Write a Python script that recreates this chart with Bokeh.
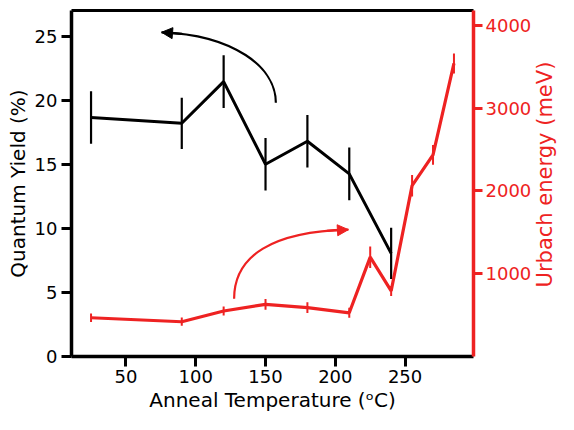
import numpy as np
from bokeh.plotting import figure
from bokeh.models import Range1d, LinearAxis, FixedTicker, Arrow, NormalHead, Label
from bokeh.embed import file_html
from bokeh.resources import INLINE

# ---- data ----
qy_temp = [25, 90, 120, 150, 180, 210, 240]
qy_val = [18.65, 18.2, 21.45, 15.0, 16.8, 14.25, 8.05]
qy_err = [2.05, 2.0, 2.05, 2.05, 2.05, 2.05, 2.0]

ue_temp = [25, 90, 120, 150, 180, 210, 225, 240, 255, 270, 285]
ue_val = [468, 420, 550, 630, 590, 528, 1200, 792, 2064, 2436, 3540]
ue_err = [50, 50, 55, 65, 65, 60, 130, 60, 130, 120, 120]

x_ticks = [50, 100, 150, 200, 250]
y_ticks = [0, 5, 10, 15, 20, 25]
y2_ticks = [1000, 2000, 3000, 4000]

# annotation arrows (cubic bezier: start, cp1, cp2, end) in data units
black_arrow = dict(x0=157.4, y0=19.8, cx0=157.4, cy0=22.6, cx1=126.8, cy1=25.1, x1=75.5, y1=25.3)
red_arrow = dict(x0=127.5, y0=4.5, cx0=127.5, cy0=7.9, cx1=155.3, cy1=9.75, x1=209.4, y1=9.9)

FONT = "DejaVu Sans"
RED = "#ee2222"

p = figure(width=558, height=414, min_border_left=71, min_border_right=84,
           min_border_top=10, min_border_bottom=58,
           x_range=Range1d(11, 299), y_range=Range1d(0, 27),
           output_backend="svg", toolbar_location=None)
p.extra_y_ranges = {"ue": Range1d(0, 4180)}
p.grid.visible = False
p.outline_line_color = None
p.background_fill_color = "white"
p.border_fill_color = "white"

def style(ax, color):
    ax.axis_line_color = color
    ax.axis_line_width = 3.5
    ax.major_tick_line_color = color
    ax.major_tick_line_width = 3
    ax.major_tick_out = 10
    ax.major_tick_in = 0
    ax.minor_tick_line_color = None
    ax.major_label_text_color = color
    ax.major_label_text_font = FONT
    ax.major_label_text_font_size = "18px"
    ax.major_label_standoff = 4
    ax.axis_label_text_color = color
    ax.axis_label_text_font = FONT
    ax.axis_label_text_font_style = "normal"
    ax.axis_label_text_font_size = "20px"
    ax.axis_label_standoff = 2

xa = p.xaxis[0]
style(xa, "black")
xa.ticker = FixedTicker(ticks=x_ticks)
xa.axis_label = "Anneal Temperature (\u1d52C)"
xa.major_label_standoff = 3

ya = p.yaxis[0]
style(ya, "black")
ya.ticker = FixedTicker(ticks=y_ticks)
ya.axis_label = "Quantum Yield (%)"

ra = LinearAxis(y_range_name="ue")
style(ra, RED)
ra.ticker = FixedTicker(ticks=y2_ticks)
ra.major_tick_out = 9
ra.major_label_standoff = 3
p.add_layout(ra, "right")

# right axis title, reading bottom to top (placed in the right panel)
p.add_layout(Label(x=350.4, y=14.2, text="Urbach energy (meV)", angle=np.pi / 2,
                   text_align="center", text_baseline="middle", text_color=RED,
                   text_font=FONT, text_font_size="21px"), "right")

ta = LinearAxis(ticker=FixedTicker(ticks=[]))
ta.axis_line_color = "black"
ta.axis_line_width = 3
ta.major_tick_line_color = None
ta.minor_tick_line_color = None
ta.major_label_text_font_size = "0px"
p.add_layout(ta, "above")

# quantum yield (black)
qy_lo = [v - e for v, e in zip(qy_val, qy_err)]
qy_hi = [v + e for v, e in zip(qy_val, qy_err)]
p.segment(qy_temp, qy_lo, qy_temp, qy_hi, line_color="black", line_width=2.2)
p.line(qy_temp, qy_val, line_color="black", line_width=3)

# urbach energy (red)
ue_lo = [v - e for v, e in zip(ue_val, ue_err)]
ue_hi = [v + e for v, e in zip(ue_val, ue_err)]
p.segment(ue_temp, ue_lo, ue_temp, ue_hi, line_color=RED, line_width=2, y_range_name="ue")
p.line(ue_temp, ue_val, line_color=RED, line_width=3.2, y_range_name="ue")

def bez(d, t):
    return ((1 - t) ** 3 * d["x0"] + 3 * (1 - t) ** 2 * t * d["cx0"] + 3 * (1 - t) * t ** 2 * d["cx1"] + t ** 3 * d["x1"],
            (1 - t) ** 3 * d["y0"] + 3 * (1 - t) ** 2 * t * d["cy0"] + 3 * (1 - t) * t ** 2 * d["cy1"] + t ** 3 * d["y1"])

for d, c in ((black_arrow, "black"), (red_arrow, RED)):
    p.bezier(x0=[d["x0"]], y0=[d["y0"]], x1=[d["x1"]], y1=[d["y1"]],
             cx0=[d["cx0"]], cy0=[d["cy0"]], cx1=[d["cx1"]], cy1=[d["cy1"]],
             line_color=c, line_width=2.2)
    sx, sy = bez(d, 0.9)
    p.add_layout(Arrow(end=NormalHead(size=11, fill_color=c, line_color=c, line_width=1),
                       x_start=sx, y_start=sy, x_end=d["x1"], y_end=d["y1"],
                       line_color=c, line_width=2.2))

open("out.html", "w").write(file_html(p, INLINE))
